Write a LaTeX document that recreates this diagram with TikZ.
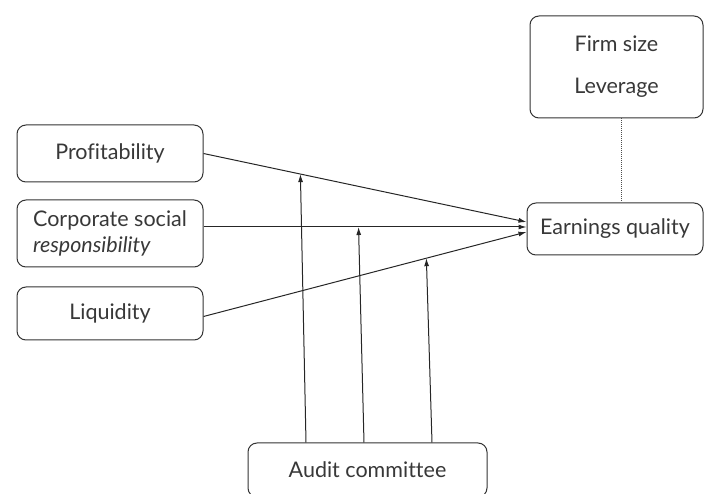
\documentclass[tikz,border=0pt]{standalone}
\usepackage{fontspec}
\setmainfont{Lato}[Ligatures=NoCommon]
\usetikzlibrary{arrows.meta,calc}

\tikzset{
  box/.style={draw=black!80,line width=1pt,rounded corners=9pt,text=black!78,
    font=\fontsize{21.5}{26}\selectfont,inner sep=0pt},
  arr/.style={draw=black!85,line width=1pt,-{Latex[length=8pt,width=5pt]}}
}

\begin{document}
\begin{tikzpicture}[x=1pt,y=-1pt]
\useasboundingbox (0,0) rectangle (705,494);

\node[box,minimum width=186pt,minimum height=57pt] (prof) at (110,153.5) {Profitability};
\node[box,minimum width=186pt,minimum height=67pt,align=left] (csr) at (110,233.5)
  {Corporate social\\\textit{responsibility}};
\node[box,minimum width=186pt,minimum height=53pt] (liq) at (110,313.5) {Liquidity};

\node[box,minimum width=176pt,minimum height=52pt] (earn) at (615,229) {Earnings quality};
\node[box,minimum width=173pt,minimum height=102pt,align=center,
  font=\fontsize{21.5}{42}\selectfont] (firm) at (616.5,67) {Firm size\\Leverage};
\node[box,minimum width=239pt,minimum height=54pt] (audit) at (367.5,470) {Audit committee};

% ends on the outcome box
\coordinate (e1) at ($(earn.west)+(0,-7)$);
\coordinate (e2) at ($(earn.west)+(0,-2)$);
\coordinate (e3) at ($(earn.west)+(0,3)$);

\draw[arr] (prof.east) -- (e1);
\draw[arr] (csr.east |- e2) -- (e2);
\draw[arr] ($(liq.east)+(0,3)$) -- (e3);

% moderator
\coordinate (m1) at ($(prof.east)!0.30!(e1)$);
\coordinate (m2) at ($(csr.east |- e2)!0.48!(e2)$);
\coordinate (m3) at ($($(liq.east)+(0,3)$)!0.69!(e3)$);

\draw[arr] ($(audit.north)+(-61.5,0)$) -- (m1);
\draw[arr] ($(audit.north)+(-3.5,0)$) -- (m2);
\draw[arr] ($(audit.north)+(64.5,0)$) -- (m3);

\draw[black!70,line width=1pt,densely dotted] ($(firm.south)+(5,0)$) -- ($(firm.south |- earn.north)+(5,0)$);
\end{tikzpicture}
\end{document}
